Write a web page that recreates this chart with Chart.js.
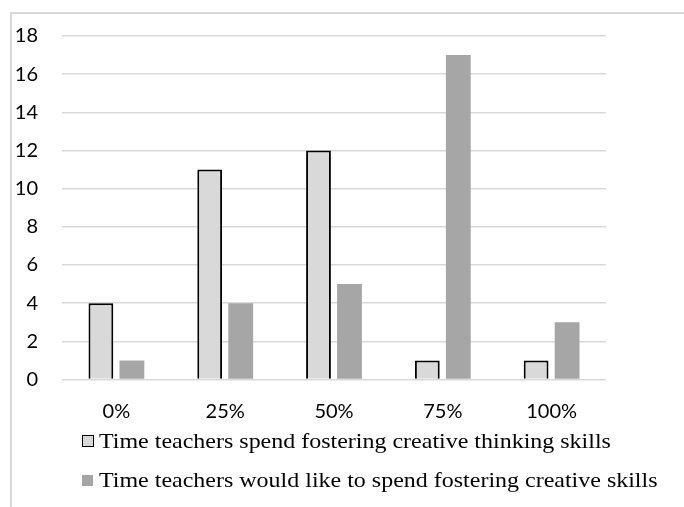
<!DOCTYPE html>
<html>
<head>
<meta charset="utf-8">
<script src="https://cdn.jsdelivr.net/npm/chart.js@4/dist/chart.umd.min.js"></script>
<style>
  html, body { margin: 0; padding: 0; background: #fff; }
  #wrap { position: relative; width: 684px; height: 507px; overflow: hidden; }
  #frame {
    position: absolute; left: 10px; top: 12px; width: 700px; height: 520px;
    border-top: 2px solid #d9d9d9; border-left: 2px solid #d9d9d9;
  }
  #chart { position: absolute; left: 0; top: 0; }
  #legend {
    position: absolute; left: 82px; top: 428px;
    font-family: "Liberation Serif", "Times New Roman", serif;
    font-size: 22px; color: #000;
  }
  .item { display: flex; align-items: center; height: 26px; margin-bottom: 13px; white-space: nowrap; }
  .swatch { box-sizing: border-box; width: 12px; height: 12px; margin-right: 5px; flex: none; }
  .txt { display: inline-block; transform: scaleX(1.09); transform-origin: left center; }
</style>
</head>
<body>
<div id="wrap">
  <div id="frame"></div>
  <canvas id="chart" width="684" height="507"></canvas>
  <div id="legend"></div>
</div>
<script>
// Share of lesson time (categories) and number of teachers per answer
const categories = ['0%', '25%', '50%', '75%', '100%'];
const spendNow = [4, 11, 12, 1, 1];
const wouldLike = [1, 4, 5, 17, 3];
const seriesNames = [
  'Time teachers spend fostering creative thinking skills',
  'Time teachers would like to spend fostering creative skills'
];
const yTicks = [0, 2, 4, 6, 8, 10, 12, 14, 16, 18];

const tickFont = { family: 'Lato, "Open Sans", sans-serif', size: 20 };

const chart = new Chart(document.getElementById('chart'), {
  type: 'bar',
  data: {
    labels: categories,
    datasets: [
      {
        label: seriesNames[0],
        data: spendNow,
        backgroundColor: '#d9d9d9',
        borderColor: '#000000',
        borderWidth: 2
      },
      {
        label: seriesNames[1],
        data: wouldLike,
        backgroundColor: '#a6a6a6',
        borderWidth: 0
      }
    ]
  },
  options: {
    responsive: false,
    animation: false,
    devicePixelRatio: 1,
    categoryPercentage: 0.57,
    barPercentage: 0.8,
    layout: { padding: { left: 0, right: 78, top: 35.5, bottom: 82.5 } },
    plugins: {
      legend: { display: false },
      tooltip: { enabled: false }
    },
    scales: {
      x: {
        grid: { display: false, drawTicks: false },
        border: { display: false },
        ticks: { font: tickFont, color: '#000', padding: 20, maxRotation: 0 },
        afterFit(scale) { scale.height = 45; }
      },
      y: {
        min: yTicks[0],
        max: yTicks[yTicks.length - 1],
        afterBuildTicks(scale) { scale.ticks = yTicks.map(v => ({ value: v })); },
        grid: { color: '#d9d9d9', lineWidth: 1.5, drawTicks: false },
        border: { display: false },
        ticks: { font: tickFont, color: '#000', padding: 24 },
        afterFit(scale) { scale.width = 62; }
      }
    }
  }
});

// Legend rows, one per series, left-aligned
const legend = document.getElementById('legend');
chart.data.datasets.forEach(ds => {
  const row = document.createElement('div');
  row.className = 'item';
  const sw = document.createElement('span');
  sw.className = 'swatch';
  sw.style.background = ds.backgroundColor;
  if (ds.borderWidth) sw.style.border = '1.5px solid ' + ds.borderColor;
  else { sw.style.width = '11px'; sw.style.height = '11px'; sw.style.marginRight = '6px'; }
  const txt = document.createElement('span');
  txt.className = 'txt';
  txt.textContent = ds.label;
  row.appendChild(sw);
  row.appendChild(txt);
  legend.appendChild(row);
});
</script>
</body>
</html>
